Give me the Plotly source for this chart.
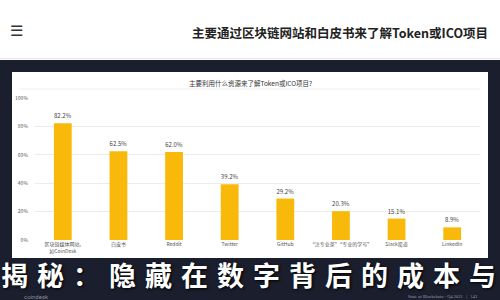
import plotly.graph_objects as go

categories = ["区块链媒体网站,<br>如CoinDesk", "白皮书", "Reddit", "Twitter", "GitHub",
              "“注专业茶”“专业的学号”", "Slack渠道", "LinkedIn"]
values = [82.2, 62.5, 62.0, 39.2, 29.2, 20.3, 15.1, 8.9]
value_labels = ["82.2%", "62.5%", "62.0%", "39.2%", "29.2%", "20.3%", "15.1%", "8.9%"]
y_ticks = [0, 20, 40, 60, 80, 100]
y_tick_labels = ["0%", "20%", "40%", "60%", "80%", "100%"]
banner_text = "揭秘：隐藏在数字背后的成本与"

W, H = 500, 300
ML, MR, MT, MB = 35, 20, 98, 60
PW, PH = W - ML - MR, H - MT - MB

def px_x(px):
    return (px - ML) / PW

def px_y(py):
    return (H - MB - py) / PH

fig = go.Figure(go.Bar(
    x=categories, y=values, text=value_labels, textposition="outside",
    textfont=dict(size=6, color="#444"), cliponaxis=False,
    marker=dict(color="#F9B90B", line=dict(width=0)),
))

shapes = [
    dict(type="rect", xref="paper", yref="paper", x0=px_x(-5), x1=px_x(505),
         y0=px_y(305), y1=px_y(60), fillcolor="#1b1e2d", line=dict(width=0), layer="below"),
    dict(type="rect", xref="paper", yref="paper", x0=px_x(12), x1=px_x(488),
         y0=px_y(258), y1=px_y(72), fillcolor="#ffffff", line=dict(width=0), layer="below"),
    dict(type="line", xref="paper", yref="paper", x0=px_x(0), x1=px_x(500),
         y0=px_y(58.5), y1=px_y(58.5), line=dict(color="#e6e8ee", width=1)),
    dict(type="line", xref="paper", yref="paper", x0=px_x(20), x1=px_x(480),
         y0=px_y(89), y1=px_y(89), line=dict(color="#eeeeee", width=1), layer="below"),
]

annotations = [
    dict(text="☰", xref="paper", yref="paper", x=px_x(16), y=px_y(29),
         showarrow=False, font=dict(size=15, color="#333"), xanchor="center", yanchor="middle"),
    dict(text="<b>主要通过区块链网站和白皮书来了解Token或ICO项目</b>", xref="paper", yref="paper",
         x=px_x(490), y=px_y(32), showarrow=False, xanchor="right", yanchor="middle",
         font=dict(size=12.5, color="#222", family="Noto Sans CJK SC")),
    dict(text="主要利用什么资源来了解Token或ICO项目?", xref="paper", yref="paper",
         x=px_x(250), y=px_y(83), showarrow=False, xanchor="center", yanchor="middle",
         font=dict(size=6.5, color="#333", family="Noto Sans CJK SC")),
    dict(text="coindesk", xref="paper", yref="paper", x=px_x(22), y=px_y(296.5),
         showarrow=False, xanchor="left", yanchor="middle",
         font=dict(size=6, color="#8a8d99", family="Roboto")),
    dict(text="State of Blockchain - Q4 2021   |   143", xref="paper", yref="paper",
         x=px_x(480), y=px_y(296.5), showarrow=False, xanchor="right", yanchor="middle",
         font=dict(size=4.5, color="#9a9da8", family="Liberation Serif")),
]

for i, ch in enumerate(banner_text):
    annotations.append(dict(
        text="<b>" + ch + "</b>", xref="paper", yref="paper",
        x=px_x(14 + 36 * i), y=px_y(274), showarrow=False,
        xanchor="center", yanchor="middle",
        font=dict(size=27, color="#ffffff", family="Noto Sans CJK SC",
                  shadow="1px 1px 3px #000"),
    ))

fig.update_layout(
    width=W, height=H, margin=dict(l=ML, r=MR, t=MT, b=MB, pad=0),
    paper_bgcolor="#ffffff", plot_bgcolor="rgba(0,0,0,0)",
    bargap=0.68, showlegend=False,
    shapes=shapes, annotations=annotations,
    font=dict(family="Noto Sans CJK SC", color="#555"),
    xaxis=dict(showgrid=False, showline=False, ticks="", tickfont=dict(size=5, color="#555"),
               tickangle=0, fixedrange=True),
    yaxis=dict(range=[0, 100], tickvals=y_ticks, ticktext=y_tick_labels,
               showgrid=True, gridcolor="#ececec", gridwidth=1, zeroline=False,
               showline=False, ticks="", tickfont=dict(size=5, color="#555"),
               ticklabelstandoff=6, fixedrange=True),
)

fig.write_html("out.html", config=dict(displayModeBar=False))
